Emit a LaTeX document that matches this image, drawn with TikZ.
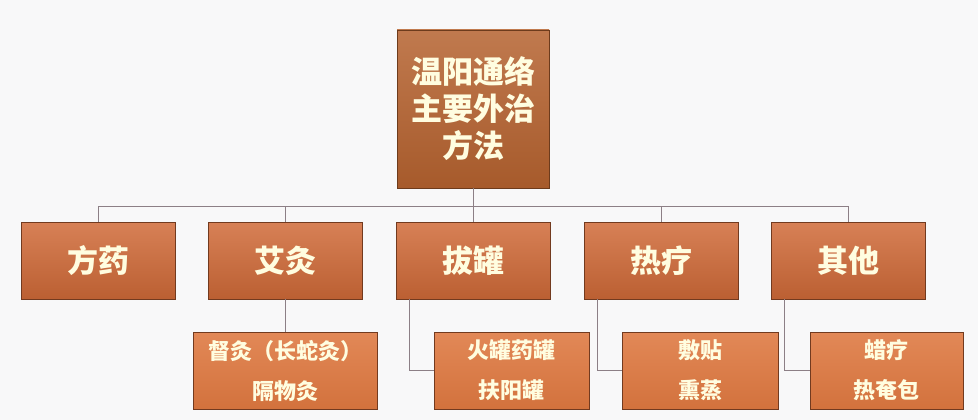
\documentclass[tikz,border=0pt]{standalone}
\usepackage{fontspec}
\newfontfamily\cjk{Noto Sans CJK SC}
\usepackage{tikz}
\usetikzlibrary{positioning}
\definecolor{rootclr}{HTML}{B5622F}
\definecolor{topclr}{HTML}{D06A38}
\definecolor{subclr}{HTML}{DE7840}
\definecolor{lineclr}{HTML}{8C7F86}
\definecolor{bgclr}{HTML}{F8F8F9}
\begin{document}
\begin{tikzpicture}[
  x=1pt, y=-1pt,
  font=\cjk\bfseries,
  box/.style={draw=black!45!topclr, line width=0.6pt, inner sep=0pt, align=center, text=white!88!yellow},
  rootbox/.style={box, top color=rootclr!85!white, bottom color=rootclr!92!black, draw=rootclr!60!black,
    minimum width=152pt, minimum height=158pt, font=\cjk\bfseries\fontsize{31}{37}\selectfont},
  catbox/.style={box, top color=topclr!85!white, bottom color=topclr!90!black,
    minimum width=154pt, minimum height=77pt, font=\cjk\bfseries\fontsize{31}{37}\selectfont},
  subbox/.style={box, top color=subclr!88!white, bottom color=subclr!95!black,
    minimum height=77pt, font=\cjk\bfseries\fontsize{22}{40}\selectfont},
  conn/.style={draw=lineclr, line width=0.8pt}]
\fill[bgclr] (0,0) rectangle (978,420);
\useasboundingbox (0,0) rectangle (978,420);
% root
\node[rootbox] (root) at (473,109) {温阳通络\\主要外治\\方法};
% categories
\node[catbox] (fy) at (98,260.5) {方药};
\node[catbox] (aj) at (285,260.5) {艾灸};
\node[catbox] (bg) at (473,260.5) {拔罐};
\node[catbox] (rl) at (661,260.5) {热疗};
\node[catbox] (qt) at (848,260.5) {其他};
\coordinate (bus) at (473,206);
\draw[conn] (root) -- (bus);
\foreach \n in {fy,aj,bg,rl,qt}
  \draw[conn] (bus) -| (\n.north);
% methods
\node[subbox, minimum width=184pt] (aj2) at (285,370.5) {督灸（长蛇灸）\\隔物灸};
\node[subbox, minimum width=155pt] (bg2) at (511.5,370.5) {火罐药罐\\扶阳罐};
\node[subbox, minimum width=156pt] (rl2) at (700,370.5) {敷贴\\熏蒸};
\node[subbox, minimum width=153pt] (qt2) at (886.5,370.5) {蜡疗\\热奄包};
\draw[conn] (aj) -- (aj2);
\draw[conn] ([xshift=14pt]bg.south west) |- (bg2.west);
\draw[conn] ([xshift=14pt]rl.south west) |- (rl2.west);
\draw[conn] ([xshift=14pt]qt.south west) |- (qt2.west);
\end{tikzpicture}
\end{document}
